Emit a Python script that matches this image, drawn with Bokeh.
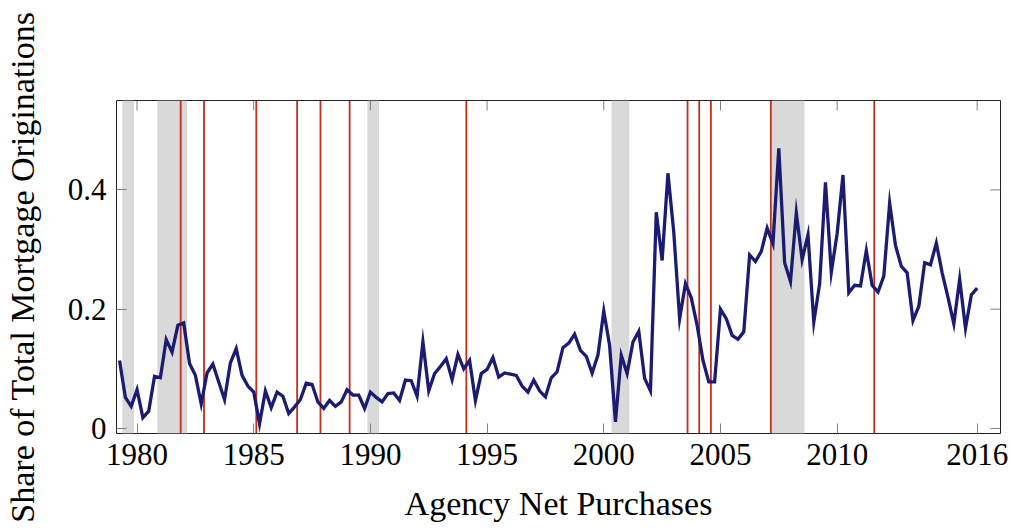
import math
from bokeh.plotting import figure
from bokeh.models import FixedTicker, BoxAnnotation, Span, Range1d, ColumnDataSource
from bokeh.embed import file_html
from bokeh.resources import INLINE

# ---- data ----
share = [
    0.114, 0.052, 0.037, 0.065, 0.018, 0.029, 0.0875, 0.085, 0.149, 0.128,
    0.173, 0.177, 0.109, 0.089, 0.041, 0.093, 0.108, 0.078, 0.0485, 0.110,
    0.134, 0.089, 0.071, 0.061, 0.008, 0.063, 0.035, 0.061, 0.054, 0.025,
    0.036, 0.0485, 0.076, 0.074, 0.0445, 0.0335, 0.047, 0.037, 0.0445, 0.065,
    0.056, 0.056, 0.0335, 0.061, 0.052, 0.0445, 0.0585, 0.0595, 0.047, 0.081,
    0.080, 0.054, 0.145, 0.063, 0.092, 0.104, 0.117, 0.082, 0.124, 0.100,
    0.114, 0.047, 0.092, 0.099, 0.119, 0.086, 0.093, 0.091, 0.089, 0.071,
    0.061, 0.081, 0.063, 0.053, 0.085, 0.095, 0.1355, 0.143, 0.158, 0.131,
    0.121, 0.093, 0.123, 0.197, 0.139, 0.011, 0.1225, 0.092, 0.145, 0.163,
    0.084, 0.063, 0.3625, 0.2817, 0.428, 0.329, 0.184, 0.2427, 0.219, 0.173,
    0.1143, 0.078, 0.078, 0.200, 0.184, 0.156, 0.1495, 0.162, 0.291, 0.280,
    0.297, 0.336, 0.310, 0.4697, 0.278, 0.2465, 0.3615, 0.283, 0.325, 0.1785,
    0.2427, 0.4128, 0.262, 0.327, 0.425, 0.2276, 0.240, 0.239, 0.2984, 0.240,
    0.2286, 0.2555, 0.378, 0.3068, 0.272, 0.261, 0.181, 0.205, 0.278, 0.2745,
    0.311, 0.261, 0.220, 0.1757, 0.250, 0.168, 0.224, 0.2353,
]
quarters = [1979.25 + 0.25 * i for i in range(len(share))]

recession_starts = [1979.37, 1980.87, 1989.87, 2000.33, 2007.20]
recession_ends = [1979.87, 1982.14, 1990.37, 2001.09, 2008.60]

event_dates = [1981.87, 1982.87, 1985.11, 1986.86, 1987.86, 1989.11, 1994.11,
               2003.59, 2004.09, 2004.59, 2007.16, 2011.59]

x_ticks = [1980, 1985, 1990, 1995, 2000, 2005, 2010, 2016]
y_ticks = [0, 0.2, 0.4]
y_tick_labels = ["0", "0.2", "0.4"]

X_MIN, X_MAX = 1979.12, 2017.0
Y_MIN, Y_MAX = -0.0085, 0.55

FONT = "Liberation Serif"
TICK_COLOR = "#808080"

p = figure(width=1008, height=528, output_backend="svg", toolbar_location=None,
           x_range=Range1d(X_MIN, X_MAX), y_range=Range1d(Y_MIN, Y_MAX),
           min_border_left=116, min_border_right=8, min_border_top=100,
           min_border_bottom=95)
p.background_fill_color = "white"
p.border_fill_color = "white"
p.outline_line_color = "#222222"
p.outline_line_width = 1
p.xgrid.grid_line_color = None
p.ygrid.grid_line_color = None

for s, e in zip(recession_starts, recession_ends):
    p.add_layout(BoxAnnotation(left=s, right=e, fill_color="#d9d9d9", fill_alpha=1.0,
                               line_color=None, level="underlay"))
for d in event_dates:
    p.add_layout(Span(location=d, dimension="height", line_color="#c0301e",
                      line_width=1.8, level="underlay"))

# mirrored inward ticks on top and right edges
p.ray(x=x_ticks, y=[Y_MAX] * len(x_ticks), length=10, length_units="screen",
      angle=-math.pi / 2, line_color=TICK_COLOR, line_width=1)
p.ray(x=[X_MAX] * len(y_ticks), y=y_ticks, length=10, length_units="screen",
      angle=math.pi, line_color=TICK_COLOR, line_width=1)

src = ColumnDataSource(dict(x=quarters, y=share))
p.line("x", "y", source=src, line_color="#1b1b72", line_width=3.3, line_join="miter")

def style_axis(ax):
    ax.axis_line_color = None
    ax.major_tick_in = 10
    ax.major_tick_out = 0
    ax.minor_tick_line_color = None
    ax.major_tick_line_color = TICK_COLOR
    ax.major_tick_line_width = 1
    ax.major_label_text_font = FONT
    ax.major_label_text_font_size = "31px"
    ax.major_label_text_color = "black"
    ax.axis_label_text_font = FONT
    ax.axis_label_text_font_size = "34px"
    ax.axis_label_text_font_style = "normal"
    ax.axis_label_text_color = "black"

xax = p.xaxis[0]
xax.ticker = FixedTicker(ticks=x_ticks)
xax.axis_label = "Agency Net Purchases"
style_axis(xax)
xax.major_label_standoff = 10
xax.axis_label_standoff = 17

yax = p.yaxis[0]
yax.ticker = FixedTicker(ticks=y_ticks)
yax.major_label_overrides = {t: l for t, l in zip(y_ticks, y_tick_labels)}
yax.axis_label = "Share of Total Mortgage Originations"
style_axis(yax)
yax.major_label_standoff = 10
yax.axis_label_standoff = 24

open("out.html", "w").write(file_html(p, INLINE))
